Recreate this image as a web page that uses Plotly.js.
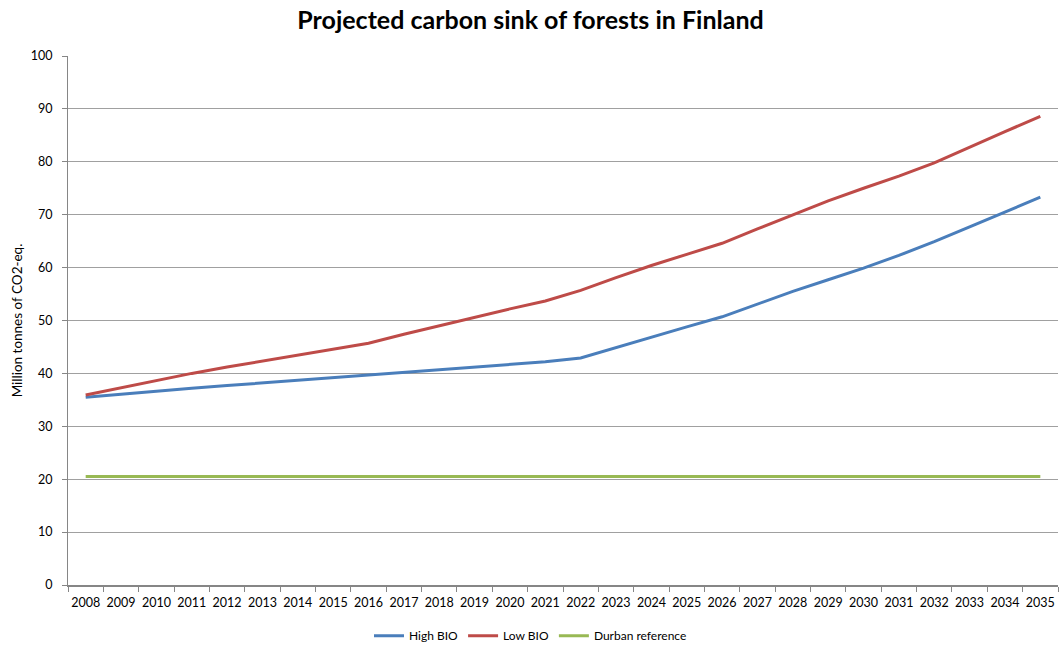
<!DOCTYPE html>
<html>
<head>
<meta charset="utf-8">
<script src="https://cdn.plot.ly/plotly-3.0.1.min.js"></script>
<style>html,body{margin:0;padding:0;background:#fff;}#chart{width:1061px;height:648px;}</style>
</head>
<body>
<div id="chart"></div>
<script>
const years = ["2008","2009","2010","2011","2012","2013","2014","2015","2016","2017","2018","2019","2020","2021","2022","2023","2024","2025","2026","2027","2028","2029","2030","2031","2032","2033","2034","2035"];
const highBio = [35.5,36.1,36.7,37.2,37.7,38.2,38.7,39.2,39.6,40.2,40.7,41.2,41.7,42.2,42.9,44.9,46.9,48.8,50.7,53.1,55.5,57.7,59.9,62.3,64.9,67.7,70.5,73.3];
const lowBio = [35.9,37.3,38.7,40.0,41.2,42.3,43.4,44.6,45.7,47.4,49.0,50.7,52.2,53.7,55.7,58.1,60.4,62.5,64.6,67.3,70.0,72.6,75.0,77.3,79.8,82.8,85.7,88.6];
const durban = [20.5,20.5,20.5,20.5,20.5,20.5,20.5,20.5,20.5,20.5,20.5,20.5,20.5,20.5,20.5,20.5,20.5,20.5,20.5,20.5,20.5,20.5,20.5,20.5,20.5,20.5,20.5,20.5];
const seriesNames = ["High BIO","Low BIO","Durban reference"];

const font = "Lato, 'Open Sans', sans-serif";
const traces = [
  {x: years, y: highBio, name: seriesNames[0], type: "scatter", mode: "lines", line: {color: "#4a7ebb", width: 3}},
  {x: years, y: lowBio, name: seriesNames[1], type: "scatter", mode: "lines", line: {color: "#be4b48", width: 3}},
  {x: years, y: durban, name: seriesNames[2], type: "scatter", mode: "lines", line: {color: "#98b954", width: 3}}
];
const layout = {
  width: 1061, height: 648,
  margin: {l: 68, r: 3, t: 56, b: 63, autoexpand: false},
  paper_bgcolor: "#ffffff", plot_bgcolor: "#ffffff",
  font: {family: font, size: 11, color: "#000"},
  title: {text: "<b>Projected carbon sink of forests in Finland</b>", font: {family: font, size: 25, color: "#000"}, x: 0.5, xanchor: "center", y: 0.968, yanchor: "middle"},
  xaxis: {
    type: "category", range: [-0.5, 27.5], tickson: "boundaries",
    ticks: "outside", ticklen: 5, tickcolor: "#868686", tickwidth: 1,
    showline: true, linecolor: "#868686", linewidth: 2, tickangle: 0,
    showgrid: false, zeroline: false, ticklabelstandoff: 5, automargin: false,
    tickfont: {family: font, size: 12.5, color: "#000"}, fixedrange: true
  },
  yaxis: {
    range: [0, 100], dtick: 10, tick0: 0,
    ticks: "outside", ticklen: 5, tickcolor: "#868686",
    showline: true, linecolor: "#868686", linewidth: 1,
    showgrid: true, gridcolor: "#a0a0a0", gridwidth: 1, zeroline: false,
    ticklabelstandoff: 7, automargin: false,
    tickfont: {family: font, size: 12.5, color: "#000"},
    title: {text: "Million tonnes of CO2-eq.", font: {family: font, size: 13.5, color: "#000"}, standoff: 5},
    fixedrange: true
  },
  showlegend: true,
  legend: {orientation: "h", xref: "container", x: 0.5, xanchor: "center", y: -0.096, yanchor: "middle", font: {family: font, size: 12, color: "#000"}, itemwidth: 30, tracegroupgap: 0}
};
Plotly.newPlot("chart", traces, layout, {displayModeBar: false, staticPlot: true});
</script>
</body>
</html>
